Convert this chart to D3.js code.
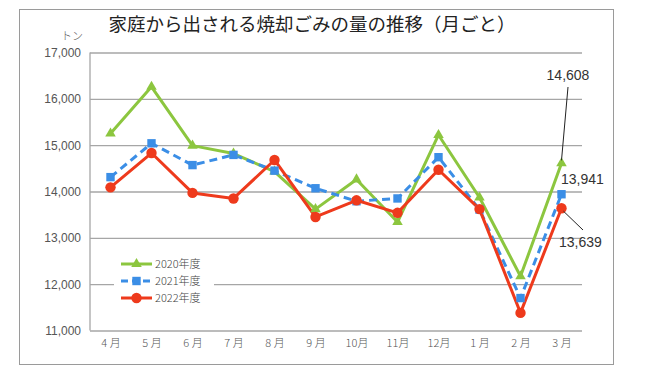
<!DOCTYPE html>
<html><head><meta charset="utf-8">
<script src="https://cdn.jsdelivr.net/npm/d3@7"></script>
<style>body{margin:0;background:#fff}svg{display:block;font-family:"Noto Sans CJK JP","Noto Sans",sans-serif}</style>
</head><body><svg id="c" width="660" height="371"></svg>
<script>
const months = ["4月","5月","6月","7月","8月","9月","10月","11月","12月","1月","2月","3月"];
const monthLabels = ["4 月","5 月","6 月","7 月","8 月","9 月","10月","11月","12月","1 月","2 月","3 月"];
const s2020 = [15250,16260,14990,14820,14430,13620,14260,13340,15220,13870,12170,14608];
const s2021 = [14310,15040,14570,14790,14450,14070,13790,13850,14740,13610,11700,13941];
const s2022 = [14090,14830,13970,13850,14680,13450,13810,13540,14470,13620,11380,13639];
const yTicks = [11000,12000,13000,14000,15000,16000,17000];
const seriesNames = ["2020年度","2021年度","2022年度"];
const colors = ["#8cc63f","#3b8ee6","#ee3a1c"];
const numFont = "'Liberation Sans','DejaVu Sans',sans-serif";
const cjkFont = "'Noto Sans CJK JP','Noto Sans',sans-serif";

const svg = d3.select("#c");
svg.append("rect").attr("x",19.5).attr("y",9.5).attr("width",594).attr("height",355)
  .attr("fill","#fff").attr("stroke","#9a9a9a").attr("stroke-width",1);

const x = d3.scalePoint().domain(months).range([90,582]).padding(0.5);
const y = d3.scaleLinear().domain([11000,17000]).range([330.5,52.5]);

const yAxis = d3.axisLeft(y).tickValues(yTicks).tickSize(-492).tickFormat(d3.format(","));
const gy = svg.append("g").attr("transform","translate(90,0)").call(yAxis);
gy.select(".domain").remove();
gy.selectAll(".tick line").attr("stroke","#a6a6a6").attr("stroke-width",1.3);
gy.selectAll(".tick text").attr("x",-9).attr("fill","#555").style("font-size","12px").style("font-family",numFont);
svg.append("line").attr("x1",90).attr("x2",90).attr("y1",52.5).attr("y2",330.5).attr("stroke","#a6a6a6").attr("stroke-width",1.3);

const xAxis = d3.axisBottom(x).tickSize(0).tickFormat((d,i)=>monthLabels[i]);
const gx = svg.append("g").attr("transform","translate(0,330.5)").call(xAxis);
gx.select(".domain").remove();
gx.selectAll(".tick text").attr("y",9).attr("fill","#555").style("font-size","11px").style("font-family",cjkFont).style("font-weight",300);

svg.append("text").attr("x",72).attr("y",40).attr("text-anchor","middle").attr("fill","#555").style("font-size","11px").style("font-weight",300).text("トン");
svg.append("text").attr("x",312).attr("y",31).attr("text-anchor","middle").attr("fill","#222").style("font-size","18.5px").style("font-weight",400).text("家庭から出される焼却ごみの量の推移（月ごと）");

const series = [s2020,s2021,s2022];
const line = d3.line().x((d,i)=>x(months[i])).y(d=>y(d));
series.forEach((s,k)=>{
  svg.append("path").datum(s).attr("d",line).attr("fill","none").attr("stroke",colors[k])
    .attr("stroke-width",3).attr("stroke-linejoin","round")
    .attr("stroke-dasharray",k===1?"8,5":null);
});
function marker(g,k,cx,cy){
  if(k===0) g.append("path").attr("d",d3.symbol(d3.symbolTriangle,48)()).attr("transform",`translate(${cx},${cy})`).attr("fill",colors[0]);
  else if(k===1) g.append("rect").attr("x",cx-4.2).attr("y",cy-4.2).attr("width",8.4).attr("height",8.4).attr("fill",colors[1]);
  else g.append("circle").attr("cx",cx).attr("cy",cy).attr("r",5.2).attr("fill",colors[2]);
}
series.forEach((s,k)=>{
  const g=svg.append("g");
  s.forEach((v,i)=>marker(g,k,x(months[i]),y(v)));
});

const lg = svg.append("g");
lg.append("rect").attr("x",114).attr("y",255).attr("width",100).attr("height",52).attr("fill","#fff");
seriesNames.forEach((n,k)=>{
  const ly = 264+k*17;
  lg.append("line").attr("x1",121).attr("x2",152).attr("y1",ly).attr("y2",ly).attr("stroke",colors[k]).attr("stroke-width",3)
    .attr("stroke-dasharray",k===1?"7,4":null);
  marker(lg,k,136.5,ly);
  lg.append("text").attr("x",155).attr("y",ly+4).attr("fill","#444").style("font-size","11px").style("font-weight",300).text(n);
});

const xl = x("3月");
svg.append("line").attr("x1",568).attr("y1",87).attr("x2",xl).attr("y2",y(s2020[11])-3).attr("stroke","#222").attr("stroke-width",1);
svg.append("text").attr("x",568).attr("y",80).attr("text-anchor","middle").attr("fill","#333").style("font-size","14px").style("font-family",numFont).text(d3.format(",")(s2020[11]));
svg.append("text").attr("x",561).attr("y",184).attr("fill","#333").style("font-size","14px").style("font-family",numFont).text(d3.format(",")(s2021[11]));
svg.append("line").attr("x1",xl+2).attr("y1",y(s2022[11])+3).attr("x2",583).attr("y2",230).attr("stroke","#222").attr("stroke-width",1);
svg.append("text").attr("x",559).attr("y",247).attr("fill","#333").style("font-size","14px").style("font-family",numFont).text(d3.format(",")(s2022[11]));
</script></body></html>
